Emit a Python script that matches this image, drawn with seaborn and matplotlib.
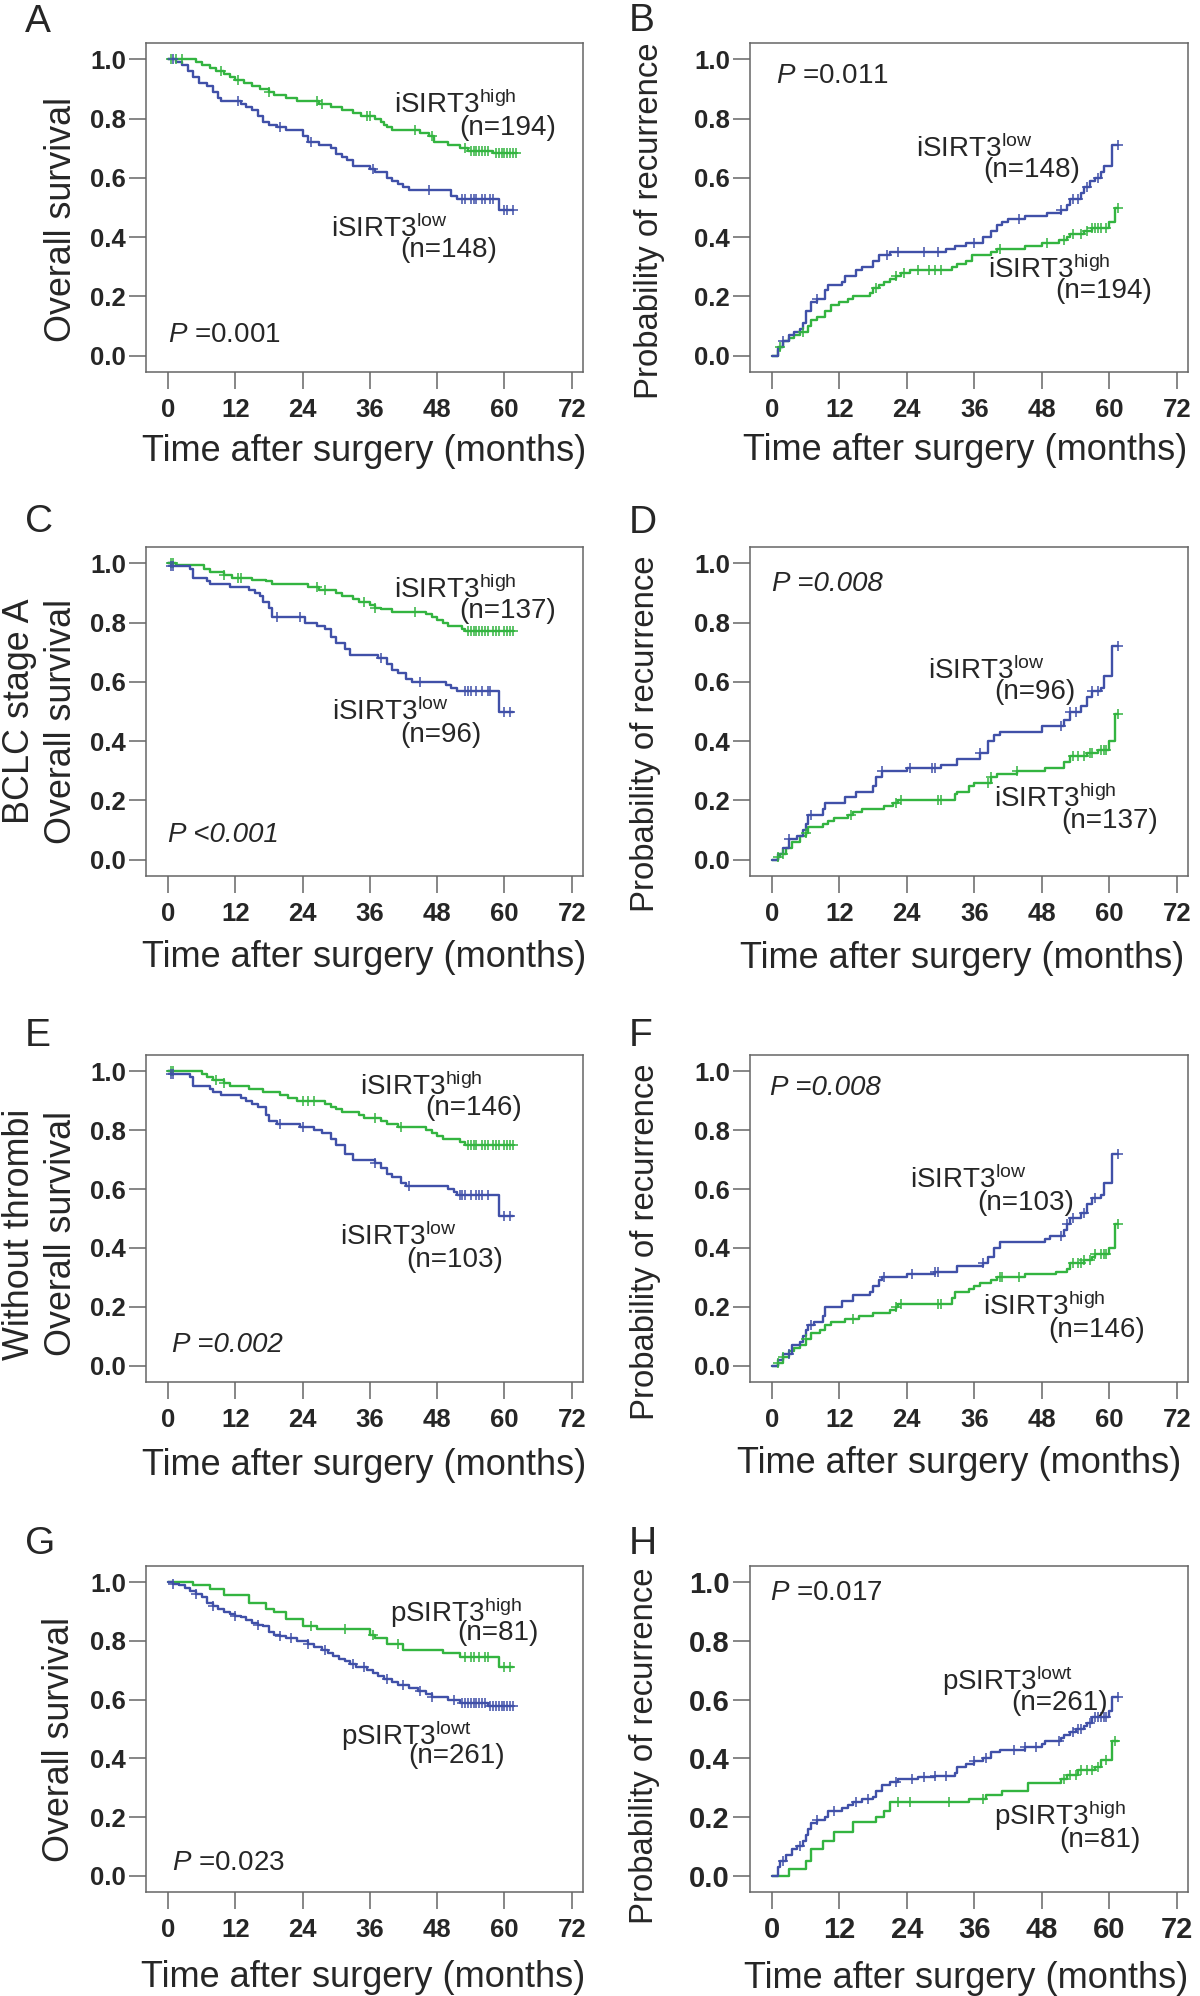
import numpy as np
import pandas as pd
import matplotlib
matplotlib.use('Agg')
import matplotlib.pyplot as plt
import seaborn as sns

# ---- data (months, probability) ----
# A: overall survival, iSIRT3
a_high_t = [0, 5, 6, 7.5, 8.5, 10, 11, 12, 13.5, 15, 16.5, 18, 19, 21, 23, 27, 29, 31, 33, 34.5, 37, 38, 38.5, 39, 40, 45, 46.5, 47.5, 50, 52, 53.5, 58, 62]
a_high_s = [1.0, 0.99, 0.98, 0.97, 0.96, 0.95, 0.94, 0.93, 0.92, 0.91, 0.90, 0.89, 0.88, 0.87, 0.86, 0.85, 0.84, 0.83, 0.82, 0.81, 0.80, 0.79, 0.78, 0.77, 0.76, 0.75, 0.74, 0.72, 0.71, 0.70, 0.69, 0.685, 0.685]
a_high_c = [0.5, 1.5, 2.5, 9.5, 12.5, 18, 26.5, 27.5, 35.5, 36, 44, 47, 53, 54, 54.5, 55, 55.5, 56, 56.5, 57, 58.5, 59, 59.5, 60, 60.5, 61, 61.5, 62]
a_low_t = [0, 1.5, 2.5, 3.5, 4.5, 5.5, 7, 8, 9, 9.5, 13, 14, 15, 16, 17, 18, 19.5, 21, 24, 25, 27, 29, 30, 31, 32, 33, 36, 37, 39, 40, 41, 42, 43, 50.5, 51.5, 59, 61.5]
a_low_s = [1.0, 0.99, 0.98, 0.96, 0.94, 0.92, 0.91, 0.89, 0.87, 0.86, 0.85, 0.84, 0.83, 0.81, 0.79, 0.78, 0.77, 0.76, 0.74, 0.72, 0.71, 0.70, 0.68, 0.67, 0.66, 0.64, 0.63, 0.62, 0.60, 0.59, 0.58, 0.57, 0.56, 0.54, 0.53, 0.49, 0.49]
a_low_c = [1, 12.5, 20, 25.5, 36.5, 46.5, 52.5, 53, 54, 54.5, 55, 56, 56.5, 57.5, 58, 60, 60.5, 61.5]

# B: recurrence, iSIRT3
b_low_t = [0, 1, 2, 3, 4, 5, 5.5, 6, 7, 8, 9.5, 10, 12.5, 13, 15, 16, 18, 19, 21, 31, 32.5, 34.5, 37.5, 39, 40, 41, 42, 45, 49, 51.5, 52.5, 53, 55, 55.5, 56.5, 57.5, 58.5, 59, 60.5, 61.5]
b_low_s = [0, 0.03, 0.05, 0.07, 0.08, 0.09, 0.11, 0.15, 0.18, 0.19, 0.22, 0.24, 0.25, 0.27, 0.29, 0.30, 0.32, 0.34, 0.35, 0.36, 0.37, 0.38, 0.40, 0.42, 0.44, 0.45, 0.46, 0.47, 0.48, 0.49, 0.51, 0.53, 0.55, 0.57, 0.59, 0.60, 0.62, 0.64, 0.71, 0.71]
b_low_c = [2, 8, 20.5, 22.5, 27, 29.5, 36, 44, 51.5, 53.5, 54.5, 56, 58, 61.5]
b_high_t = [0, 1, 1.5, 2, 3, 4, 5, 6.5, 7, 8, 9.5, 10.5, 12, 13.5, 14.5, 17.5, 18, 19, 20, 21, 22, 23, 24.5, 32, 33, 34.5, 35.5, 39, 40, 45, 48, 51, 52.5, 53, 55.5, 57, 60, 61, 61.5]
b_high_s = [0, 0.02, 0.03, 0.05, 0.06, 0.07, 0.08, 0.10, 0.12, 0.13, 0.15, 0.17, 0.18, 0.19, 0.20, 0.21, 0.23, 0.24, 0.25, 0.26, 0.27, 0.28, 0.29, 0.30, 0.31, 0.32, 0.34, 0.35, 0.36, 0.37, 0.38, 0.39, 0.40, 0.41, 0.42, 0.43, 0.45, 0.50, 0.50]
b_high_c = [1.5, 5.5, 18.5, 22, 23.5, 26, 28, 29, 30, 40.5, 49, 52, 53.5, 55, 56, 57, 57.5, 58, 58.5, 59.5, 61.5]

# C: overall survival, BCLC stage A
c_high_t = [0, 1.5, 6.5, 7.5, 10, 11.5, 15, 17.5, 18.5, 25, 27, 30, 31, 33, 34, 36, 37, 38, 40, 46, 47, 48, 49, 50, 52.5, 53, 61.5]
c_high_s = [1.0, 0.995, 0.98, 0.97, 0.96, 0.95, 0.945, 0.94, 0.93, 0.92, 0.91, 0.90, 0.89, 0.88, 0.87, 0.86, 0.85, 0.845, 0.835, 0.83, 0.82, 0.81, 0.80, 0.79, 0.78, 0.77, 0.77]
c_high_c = [0.5, 1, 10, 12.5, 13, 26.5, 28, 35, 37, 44, 53.5, 54, 54.5, 55, 55.5, 56, 56.5, 57, 58, 58.5, 59, 60, 60.5, 61, 61.5]
c_low_t = [0, 0.5, 4, 4.5, 7, 7.5, 11, 14.5, 15.5, 16.5, 17, 18, 18.5, 24.5, 26.5, 28, 29, 30, 31.5, 32.5, 37.5, 39, 40, 41, 42.5, 43.5, 49.5, 50.5, 51.5, 59, 61.5]
c_low_s = [1.0, 0.99, 0.98, 0.95, 0.94, 0.93, 0.92, 0.91, 0.90, 0.89, 0.87, 0.85, 0.82, 0.80, 0.79, 0.78, 0.75, 0.73, 0.71, 0.69, 0.68, 0.66, 0.64, 0.63, 0.61, 0.60, 0.59, 0.58, 0.57, 0.50, 0.50]
c_low_c = [0.5, 1, 19.5, 23.5, 38, 45, 53, 53.5, 54, 55, 56, 57, 57.5, 60, 61]

# D: recurrence, BCLC stage A
d_low_t = [0, 1, 2, 3, 4.5, 5.5, 6, 6.5, 9, 9.5, 13, 15, 18, 18.5, 19.5, 24, 30, 33, 37, 38.5, 39.5, 40.5, 48, 52, 53, 55, 56, 57, 58.5, 59, 60.5, 61.5]
d_low_s = [0, 0.02, 0.04, 0.07, 0.08, 0.10, 0.12, 0.15, 0.17, 0.19, 0.21, 0.23, 0.25, 0.28, 0.30, 0.31, 0.32, 0.34, 0.36, 0.40, 0.42, 0.43, 0.45, 0.47, 0.50, 0.52, 0.55, 0.57, 0.58, 0.62, 0.72, 0.72]
d_low_c = [3, 7, 19.5, 24.5, 28.5, 29, 37, 51.5, 53, 54, 57, 58, 61.5]
d_high_t = [0, 1, 1.5, 2.5, 3.5, 5, 6, 6.5, 9, 10, 11, 13.5, 14.5, 16, 20, 21.5, 22.5, 32.5, 33, 35, 36, 39, 40, 43.5, 48.5, 52, 53, 56, 58, 60, 61, 61.5]
d_high_s = [0, 0.01, 0.02, 0.04, 0.06, 0.08, 0.09, 0.11, 0.12, 0.13, 0.14, 0.15, 0.16, 0.17, 0.18, 0.19, 0.20, 0.22, 0.23, 0.25, 0.26, 0.28, 0.29, 0.30, 0.31, 0.33, 0.35, 0.36, 0.37, 0.40, 0.49, 0.49]
d_high_c = [1, 2, 6, 14, 22, 23, 29.5, 30, 38.5, 39, 43.5, 53.5, 54.5, 55.5, 56.5, 57, 58.5, 59, 59.5, 61.5]

# E: overall survival, without thrombi
e_high_t = [0, 6, 7, 8, 10, 11, 14.5, 17, 20, 21.5, 23, 28, 29, 30, 31, 34, 35, 38, 39, 41, 46, 47, 48, 49, 52, 53, 61.5]
e_high_s = [1.0, 0.99, 0.98, 0.97, 0.96, 0.95, 0.94, 0.93, 0.92, 0.91, 0.90, 0.89, 0.88, 0.87, 0.86, 0.85, 0.84, 0.83, 0.82, 0.81, 0.80, 0.79, 0.78, 0.77, 0.76, 0.75, 0.75]
e_high_c = [0.5, 1, 8.5, 10, 24, 25, 26, 37, 41.5, 53.5, 54, 54.5, 55, 56, 56.5, 57, 58, 58.5, 59, 60, 60.5, 61, 61.5]
e_low_t = [0, 0.5, 4, 4.5, 7.5, 8, 9.5, 13, 14, 15, 16, 17.5, 18, 19.5, 23.5, 26, 27.5, 29, 30, 31.5, 33, 37, 38, 39, 40, 41.5, 42.5, 50, 51, 51.5, 59, 61.5]
e_low_s = [1.0, 0.99, 0.98, 0.95, 0.94, 0.93, 0.92, 0.91, 0.90, 0.89, 0.88, 0.85, 0.83, 0.82, 0.81, 0.80, 0.79, 0.77, 0.75, 0.72, 0.70, 0.69, 0.67, 0.65, 0.64, 0.62, 0.61, 0.60, 0.59, 0.58, 0.51, 0.51]
e_low_c = [0.5, 1, 20, 24, 37, 43, 52, 52.5, 53, 54, 55, 55.5, 56, 57, 60, 61]

# F: recurrence, without thrombi
f_low_t = [0, 1, 2, 3.5, 5, 5.5, 6, 6.5, 7.5, 9, 9.5, 12.5, 14.5, 17.5, 18, 19, 19.5, 24, 29, 33, 37.5, 38.5, 39.5, 40.5, 48.5, 49.5, 52, 52.5, 53, 55, 56, 57, 58.5, 59, 60.5, 61.5]
f_low_s = [0, 0.02, 0.04, 0.07, 0.08, 0.10, 0.12, 0.14, 0.15, 0.17, 0.20, 0.22, 0.24, 0.25, 0.27, 0.29, 0.30, 0.31, 0.32, 0.34, 0.35, 0.37, 0.40, 0.42, 0.43, 0.44, 0.46, 0.48, 0.50, 0.52, 0.55, 0.57, 0.58, 0.62, 0.72, 0.72]
f_low_c = [3, 7, 20, 25, 29, 29.5, 37.5, 51.5, 52.5, 53.5, 55.5, 57.5, 61.5]
f_high_t = [0, 1, 2, 3, 4, 5, 6, 7, 8.5, 9.5, 10.5, 13, 15.5, 18, 21, 22, 22.5, 32, 32.5, 35, 36, 37, 39, 40, 45, 50.5, 52.5, 53, 55.5, 57, 57.5, 60, 61, 61.5]
f_high_s = [0, 0.01, 0.03, 0.05, 0.06, 0.07, 0.09, 0.11, 0.12, 0.14, 0.15, 0.16, 0.17, 0.18, 0.19, 0.20, 0.21, 0.23, 0.25, 0.26, 0.27, 0.28, 0.29, 0.30, 0.31, 0.32, 0.33, 0.35, 0.36, 0.37, 0.38, 0.40, 0.48, 0.48]
f_high_c = [1, 2, 6, 14.5, 22, 23, 29.5, 30, 40.5, 41, 44, 53.5, 54.5, 55, 55.5, 56.5, 57.5, 58.5, 59, 59.5, 61.5]

# G: overall survival, pSIRT3
g_high_t = [0, 4.5, 7.5, 10, 14.5, 17.5, 19, 21, 24, 26.5, 36, 37, 39, 42, 49, 52, 59, 61.5]
g_high_s = [1.0, 0.99, 0.975, 0.955, 0.93, 0.91, 0.90, 0.875, 0.85, 0.84, 0.82, 0.81, 0.79, 0.77, 0.76, 0.745, 0.71, 0.71]
g_high_c = [25.5, 31.5, 36.5, 41, 53, 54, 54.5, 55.5, 56.5, 57, 60, 61]
g_low_t = [0, 1, 2, 3, 4, 5, 6, 7, 8, 9, 10, 11, 12, 13, 14, 15, 16, 17, 18, 19, 20, 21, 23, 25, 26, 27.5, 28.5, 29.5, 30.5, 31.5, 32.5, 33.5, 35.5, 36.5, 37.5, 38.5, 40, 41, 43, 44.5, 46, 47, 50, 52, 57, 61.5]
g_low_s = [1.0, 0.995, 0.99, 0.98, 0.97, 0.96, 0.95, 0.93, 0.92, 0.91, 0.90, 0.89, 0.885, 0.88, 0.87, 0.86, 0.855, 0.85, 0.83, 0.82, 0.815, 0.81, 0.80, 0.79, 0.78, 0.77, 0.76, 0.75, 0.74, 0.73, 0.72, 0.71, 0.70, 0.69, 0.68, 0.67, 0.66, 0.65, 0.64, 0.63, 0.62, 0.61, 0.60, 0.59, 0.58, 0.58]
g_low_c = [1, 5, 8, 12, 16, 20, 22, 25, 28, 33, 35, 39, 42, 45, 47, 51, 52.5, 53, 53.5, 54, 54.5, 55, 55.5, 56, 56.5, 57.5, 58, 58.5, 59, 59.5, 60, 60.5, 61, 61.5]

# H: recurrence, pSIRT3
h_low_t = [0, 1, 1.5, 2.5, 3.5, 4.5, 5.5, 6, 6.5, 7, 8, 9.5, 10, 12.5, 13.5, 14.5, 16, 18, 18.5, 19.5, 21, 22.5, 26, 29, 32.5, 33, 34.5, 36, 37.5, 39, 40.5, 45, 48, 48.5, 51.5, 52, 53, 54, 55.5, 56, 57, 60, 60.5, 61.5]
h_low_s = [0, 0.03, 0.05, 0.07, 0.09, 0.10, 0.12, 0.14, 0.16, 0.18, 0.19, 0.20, 0.22, 0.23, 0.24, 0.25, 0.26, 0.27, 0.29, 0.31, 0.32, 0.33, 0.335, 0.34, 0.35, 0.37, 0.38, 0.39, 0.40, 0.42, 0.43, 0.44, 0.45, 0.46, 0.47, 0.48, 0.49, 0.50, 0.51, 0.52, 0.54, 0.56, 0.61, 0.61]
h_low_c = [2, 5, 8, 11, 15, 17, 22, 25, 27, 29, 31, 36, 38, 43, 45, 47, 51, 53.5, 54.5, 55, 56.5, 57.5, 58, 58.5, 59, 59.5, 61.5]
h_high_t = [0, 3, 6, 7, 9, 11, 14.5, 18.5, 20, 21, 35, 38, 41, 45.5, 51.5, 52.5, 54.5, 57.5, 58.5, 60.5, 61.5]
h_high_s = [0, 0.025, 0.05, 0.09, 0.12, 0.15, 0.185, 0.20, 0.22, 0.25, 0.26, 0.275, 0.29, 0.315, 0.33, 0.345, 0.36, 0.37, 0.395, 0.46, 0.46]
h_high_c = [22.5, 24.5, 31.5, 37.5, 52, 53, 54, 55, 56, 57, 58, 59.5, 61]

x_ticks = [0, 12, 24, 36, 48, 60, 72]
y_ticks = [0.0, 0.2, 0.4, 0.6, 0.8, 1.0]

# ---- style ----
sns.set_style('white')
plt.rcParams['font.family'] = ['Liberation Sans', 'DejaVu Sans']
plt.rcParams['mathtext.fontset'] = 'custom'
plt.rcParams['mathtext.rm'] = 'Liberation Sans'
plt.rcParams['mathtext.it'] = 'Liberation Sans:italic'
plt.rcParams['mathtext.bf'] = 'Liberation Sans:bold'

W, H = 1200, 1996
BLUE = '#4050a8'
GREEN = '#33b440'
FRAME = '#666666'

fig = plt.figure(figsize=(W / 100, H / 100), dpi=100)


def put(x, y, s, **kw):
    # place text using pixel coordinates (origin top-left)
    return fig.text(x / W, 1 - y / H, s, **kw)


def curve(ax, t, s, cens, color):
    df = pd.DataFrame({'month': t, 'prob': s})
    sns.lineplot(data=df, x='month', y='prob', ax=ax, color=color, linewidth=1.7,
                 drawstyle='steps-post', estimator=None, sort=False)
    idx = np.searchsorted(t, cens, side='right') - 1
    cdf = pd.DataFrame({'month': cens, 'prob': np.asarray(s)[idx]})
    sns.scatterplot(data=cdf, x='month', y='prob', ax=ax, marker='+', s=50,
                    color=color, edgecolor=color, linewidth=1.1, zorder=3)


# box edges in pixels
cols = [(146, 583), (750, 1188)]
rows = [(43, 372), (547, 876), (1055, 1382), (1566, 1892)]

panels = [
    dict(L='A', curves=[(a_high_t, a_high_s, a_high_c, GREEN), (a_low_t, a_low_s, a_low_c, BLUE)]),
    dict(L='B', curves=[(b_high_t, b_high_s, b_high_c, GREEN), (b_low_t, b_low_s, b_low_c, BLUE)]),
    dict(L='C', curves=[(c_high_t, c_high_s, c_high_c, GREEN), (c_low_t, c_low_s, c_low_c, BLUE)]),
    dict(L='D', curves=[(d_high_t, d_high_s, d_high_c, GREEN), (d_low_t, d_low_s, d_low_c, BLUE)]),
    dict(L='E', curves=[(e_high_t, e_high_s, e_high_c, GREEN), (e_low_t, e_low_s, e_low_c, BLUE)]),
    dict(L='F', curves=[(f_high_t, f_high_s, f_high_c, GREEN), (f_low_t, f_low_s, f_low_c, BLUE)]),
    dict(L='G', curves=[(g_high_t, g_high_s, g_high_c, GREEN), (g_low_t, g_low_s, g_low_c, BLUE)]),
    dict(L='H', curves=[(h_high_t, h_high_s, h_high_c, GREEN), (h_low_t, h_low_s, h_low_c, BLUE)]),
]

for i, p in enumerate(panels):
    x0, x1 = cols[i % 2]
    y0, y1 = rows[i // 2]
    ax = fig.add_axes([x0 / W, 1 - y1 / H, (x1 - x0) / W, (y1 - y0) / H])
    for t, s, c, col in p['curves']:
        curve(ax, t, s, c, col)
    ax.set_xlim(-3.9, 74)
    ax.set_ylim(-0.055, 1.055)
    ax.set_xticks(x_ticks)
    ax.set_yticks(y_ticks)
    ax.set_yticklabels([f'{v:.1f}' for v in y_ticks])
    ax.set_xlabel('')
    ax.set_ylabel('')
    big = p['L'] == 'H'
    ax.tick_params(axis='both', which='major', direction='out', length=12, width=1.1,
                   color=FRAME, labelsize=21 if big else 18.5, bottom=True, left=True)
    ax.tick_params(axis='x', pad=5 if big else 6.5)
    ax.tick_params(axis='y', pad=2.5)
    for lab in ax.get_xticklabels() + ax.get_yticklabels():
        lab.set_fontweight('bold')
    for sp in ax.spines.values():
        sp.set_color(FRAME)
        sp.set_linewidth(1.1)

# panel letters
for L, x, y in [('A', 25, 32), ('B', 629, 31), ('C', 25, 532), ('D', 629, 533),
                ('E', 25, 1046), ('F', 629, 1046), ('G', 25, 1554), ('H', 629, 1554)]:
    put(x, y, L, fontsize=28, ha='left', va='baseline')

# y labels (x = baseline of each rotated line)
os_kw = dict(fontsize=25.8, rotation=90, rotation_mode='anchor', ha='center', va='baseline')
rec_kw = dict(fontsize=23.7, rotation=90, rotation_mode='anchor', ha='center', va='baseline')
put(71, 219, 'Overall survival', **os_kw)
put(29, 711, 'BCLC stage A', **os_kw)
put(71, 722, 'Overall survival', **os_kw)
put(29, 1234, 'Without thrombi', **os_kw)
put(71, 1233, 'Overall survival', **os_kw)
put(69, 1740, 'Overall survival', **os_kw)
put(658, 221, 'Probability of recurrence', **rec_kw)
put(654, 734, 'Probability of recurrence', **rec_kw)
put(654, 1242, 'Probability of recurrence', **rec_kw)
put(653, 1746, 'Probability of recurrence', **rec_kw)

# x labels
for x, y in [(364, 461), (965, 460), (364, 967), (962, 968),
             (364, 1475), (959, 1473), (363, 1987), (966, 1988)]:
    put(x, y, 'Time after surgery (months)', fontsize=26, ha='center', va='baseline')

# group annotations
ann = dict(fontsize=20, ha='left', va='baseline')
hi_i = r'iSIRT3$^{\mathregular{high}}$'
lo_i = r'iSIRT3$^{\mathregular{low}}$'
hi_p = r'pSIRT3$^{\mathregular{high}}$'
lo_p = r'pSIRT3$^{\mathregular{lowt}}$'
for s, x, y in [(hi_i, 394, 113), ('(n=194)', 459, 135), (lo_i, 331, 237), ('(n=148)', 400, 257),
                (lo_i, 916, 157), ('(n=148)', 983, 177), (hi_i, 988, 278), ('(n=194)', 1055, 298),
                (hi_i, 394, 598), ('(n=137)', 459, 618), (lo_i, 332, 720), ('(n=96)', 400, 742),
                (lo_i, 928, 679), ('(n=96)', 994, 699), (hi_i, 994, 807), ('(n=137)', 1061, 828),
                (hi_i, 360, 1095), ('(n=146)', 425, 1115), (lo_i, 340, 1245), ('(n=103)', 406, 1267),
                (lo_i, 910, 1188), ('(n=103)', 977, 1210), (hi_i, 983, 1315), ('(n=146)', 1048, 1337),
                (hi_p, 390, 1622), ('(n=81)', 457, 1640), (lo_p, 341, 1745), ('(n=261)', 408, 1763),
                (lo_p, 942, 1690), ('(n=261)', 1011, 1710), (hi_p, 994, 1825), ('(n=81)', 1059, 1847)]:
    put(x, y, s, **ann)

# p values
put(168, 342, r'$\mathit{P}$ =0.001', **ann)
put(776, 83, r'$\mathit{P}$ =0.011', **ann)
put(168, 842, 'P <0.001', style='italic', **ann)
put(772, 591, 'P =0.008', style='italic', **ann)
put(172, 1352, 'P =0.002', style='italic', **ann)
put(770, 1095, 'P =0.008', style='italic', **ann)
put(172, 1870, r'$\mathit{P}$ =0.023', **ann)
put(770, 1600, r'$\mathit{P}$ =0.017', **ann)

fig.savefig('out.png', dpi=100, facecolor='white')
